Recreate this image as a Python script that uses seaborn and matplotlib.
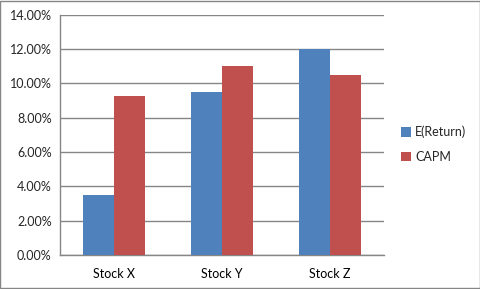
import matplotlib
matplotlib.use("Agg")
import matplotlib.pyplot as plt
import matplotlib.ticker as mticker
from matplotlib.patches import Rectangle
import pandas as pd
import seaborn as sns

# data (fractions)
stocks = ["Stock X", "Stock Y", "Stock Z"]
e_return = [0.035, 0.095, 0.120]
capm = [0.0928, 0.110, 0.105]
series = ["E(Return)", "CAPM"]
colors = ["#4F81BD", "#C0504D"]

df = pd.DataFrame({
    "stock": stocks * 2,
    "value": e_return + capm,
    "series": [series[0]] * 3 + [series[1]] * 3,
})

sns.set_style("white")
plt.rcParams["font.family"] = ["Lato", "DejaVu Sans"]

fig = plt.figure(figsize=(4.81, 2.89), dpi=100)
ax = fig.add_axes([0.1247, 0.1176, 0.673, 0.8322])

sns.barplot(data=df, x="stock", y="value", hue="series", palette=colors,
            width=0.575, saturation=1, linewidth=0, ax=ax, zorder=3)

grey = "#868686"
ax.set_ylim(0, 0.14)
ax.set_xlim(-0.5, 2.5)
ax.yaxis.set_major_locator(mticker.MultipleLocator(0.02))
ax.yaxis.set_major_formatter(mticker.FuncFormatter(lambda v, p: f"{v*100:.2f}%"))
ax.grid(axis="y", color=grey, linewidth=1, zorder=0)
ax.set_axisbelow(True)

ax.set_xticks([0, 1, 2])
ax.set_xticklabels(stocks)
ax.set_xticks([-0.5, 0.5, 1.5, 2.5], minor=True)
ax.tick_params(axis="x", which="major", length=0, pad=9, labelsize=9, colors="black")
ax.tick_params(axis="x", which="minor", length=4, color=grey, width=1, direction="out")
ax.tick_params(axis="y", length=4, color=grey, width=1, direction="out", labelsize=9, pad=2)

for s in ["top", "right"]:
    ax.spines[s].set_visible(False)
for s in ["left", "bottom"]:
    ax.spines[s].set_color(grey)
    ax.spines[s].set_linewidth(1)

ax.set_xlabel("")
ax.set_ylabel("")

ax.legend(loc="center left", bbox_to_anchor=(1.02, 0.46), frameon=False, fontsize=9,
          handlelength=0.8, handleheight=0.8, handletextpad=0.3, labelspacing=1.0)

fig.patches.append(Rectangle((0.001, 0.002), 0.997, 0.995, transform=fig.transFigure,
                             fill=False, edgecolor=grey, linewidth=1))

fig.savefig("out.png", dpi=100)
